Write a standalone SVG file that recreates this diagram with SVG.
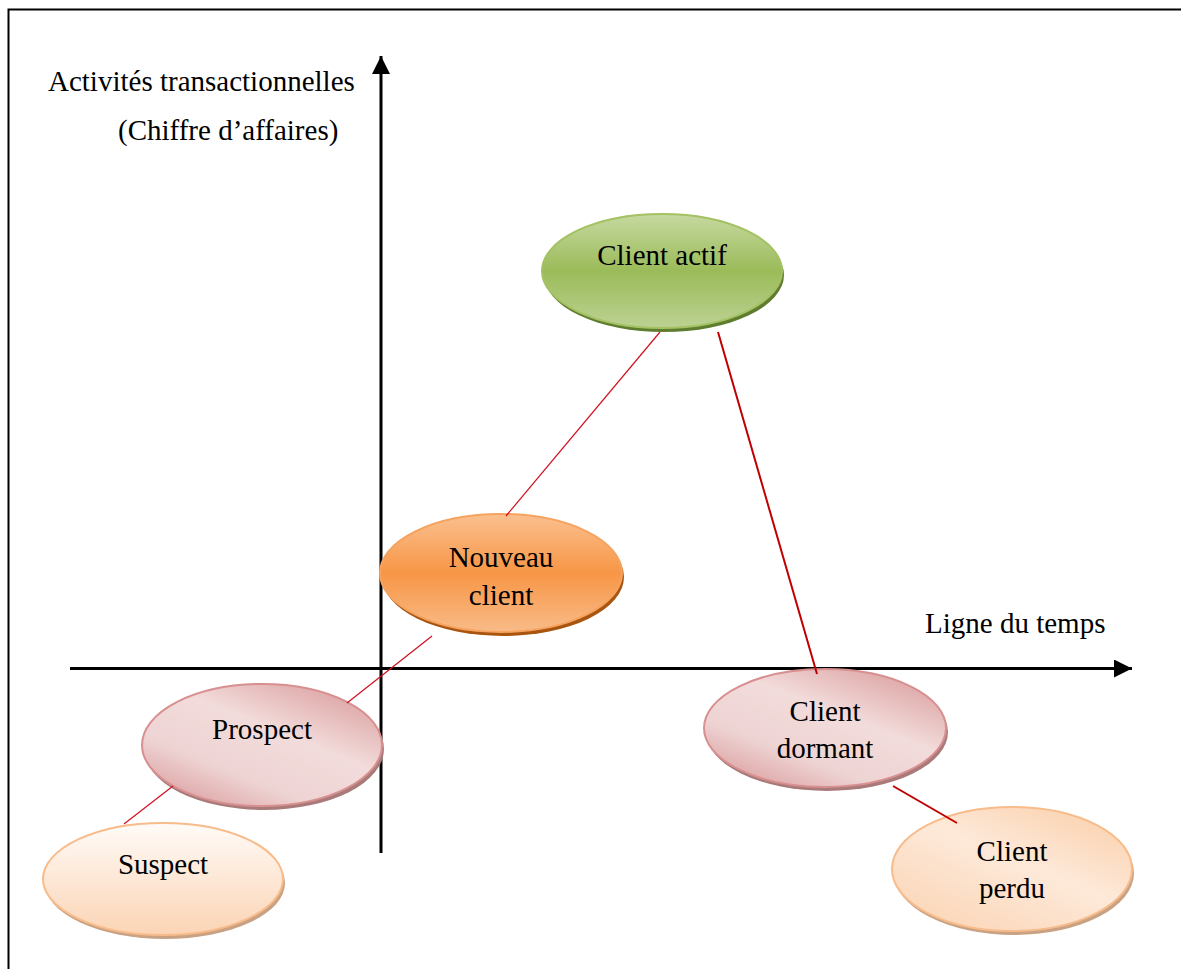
<svg xmlns="http://www.w3.org/2000/svg" width="1181" height="969" viewBox="0 0 1181 969">
  <defs>
    <linearGradient id="gGreen" x1="0" y1="0" x2="0" y2="1">
      <stop offset="0" stop-color="#c6d9a0"/>
      <stop offset="0.5" stop-color="#9bbb59"/>
      <stop offset="1" stop-color="#bcd293"/>
    </linearGradient>
    <linearGradient id="gOrange" x1="0" y1="0" x2="0" y2="1">
      <stop offset="0" stop-color="#fac08f"/>
      <stop offset="0.5" stop-color="#f79646"/>
      <stop offset="1" stop-color="#f9bb88"/>
    </linearGradient>
    <linearGradient id="gPink" x1="0.1" y1="1" x2="0.9" y2="0">
      <stop offset="0" stop-color="#d9999a"/>
      <stop offset="0.3" stop-color="#eed3d3"/>
      <stop offset="0.6" stop-color="#f2dcdb"/>
      <stop offset="1" stop-color="#d99a9a"/>
    </linearGradient>
    <linearGradient id="gPeachV" x1="0" y1="0" x2="0" y2="1">
      <stop offset="0" stop-color="#fffbf8"/>
      <stop offset="1" stop-color="#fbd4b4"/>
    </linearGradient>
    <linearGradient id="gPeachD" x1="0.1" y1="1" x2="0.9" y2="0">
      <stop offset="0" stop-color="#fbd4b4"/>
      <stop offset="0.55" stop-color="#fde9d9"/>
      <stop offset="1" stop-color="#fbcfaa"/>
    </linearGradient>
    <marker id="arrow" viewBox="0 0 10 10" refX="10" refY="5" markerWidth="6" markerHeight="6" markerUnits="strokeWidth" orient="auto">
      <path d="M0,0 L10,5 L0,10 z" fill="#000"/>
    </marker>
  </defs>
  <style>
    text { font-family: 'Liberation Serif', 'Times New Roman', Times, serif; font-size: 29px; fill: #000; }
    .lbl { text-anchor: middle; }
    .axis { stroke: #000; stroke-width: 3; fill: none; }
    .thin { stroke: #d01020; stroke-width: 1.2; fill: none; }
    .thick { stroke: #c00000; stroke-width: 2; fill: none; }
  </style>

  <rect width="1181" height="969" fill="#fff"/>
  <!-- page frame -->
  <path d="M8.5,985 L8.5,9.5 L1200,9.5" fill="none" stroke="#000" stroke-width="2"/>

  <!-- axes -->
  <g id="axes">
    <line class="axis" x1="381" y1="853" x2="381" y2="56" marker-end="url(#arrow)"/>
    <line class="axis" x1="70" y1="668.5" x2="1132" y2="668.5" marker-end="url(#arrow)"/>
    <text x="48" y="91">Activités transactionnelles</text>
    <text x="118" y="140">(Chiffre d’affaires)</text>
    <text x="925" y="633">Ligne du temps</text>
  </g>

  <g id="client-actif">
    <ellipse cx="664" cy="275" rx="120" ry="57" fill="#5f7d2e"/>
    <ellipse cx="662" cy="271" rx="120" ry="57" fill="url(#gGreen)" stroke="#a4c163" stroke-width="2"/>
    <text class="lbl" x="662" y="265">Client actif</text>
  </g>

  <g id="nouveau-client">
    <ellipse cx="503" cy="577" rx="121" ry="59" fill="#a9540f"/>
    <ellipse cx="501" cy="573" rx="121" ry="59" fill="url(#gOrange)" stroke="#f5a35f" stroke-width="2"/>
    <text class="lbl" x="501" y="567">Nouveau</text>
    <text class="lbl" x="501" y="605">client</text>
  </g>

  <g id="prospect">
    <ellipse cx="264" cy="749" rx="120" ry="61" fill="#a97a7a"/>
    <ellipse cx="262" cy="745" rx="120" ry="61" fill="url(#gPink)" stroke="#d88f8f" stroke-width="2"/>
    <text class="lbl" x="262" y="739">Prospect</text>
  </g>

  <g id="suspect">
    <ellipse cx="165" cy="883" rx="120" ry="56" fill="#c9a284"/>
    <ellipse cx="163" cy="879" rx="120" ry="56" fill="url(#gPeachV)" stroke="#f8bb8a" stroke-width="2"/>
    <text class="lbl" x="163" y="874">Suspect</text>
  </g>

  <g id="client-dormant">
    <ellipse cx="827" cy="732" rx="121" ry="59" fill="#a97a7a"/>
    <ellipse cx="825" cy="728" rx="121" ry="59" fill="url(#gPink)" stroke="#d88f8f" stroke-width="2"/>
    <text class="lbl" x="825" y="721">Client</text>
    <text class="lbl" x="825" y="758">dormant</text>
  </g>

  <g id="client-perdu">
    <ellipse cx="1014" cy="873" rx="120" ry="62" fill="#c9a284"/>
    <ellipse cx="1012" cy="869" rx="120" ry="62" fill="url(#gPeachD)" stroke="#f8bb8a" stroke-width="2"/>
    <text class="lbl" x="1012" y="861">Client</text>
    <text class="lbl" x="1012" y="898">perdu</text>
  </g>

  <!-- connectors, drawn over the ellipses -->
  <g id="connectors">
    <line class="thin" x1="660" y1="332" x2="506" y2="516"/>
    <line class="thick" x1="718" y1="332" x2="817" y2="674"/>
    <line class="thin" x1="432" y1="636" x2="347" y2="703"/>
    <line class="thin" x1="173" y1="786" x2="124" y2="824"/>
    <line class="thick" x1="893" y1="786" x2="957" y2="823"/>
  </g>
</svg>
